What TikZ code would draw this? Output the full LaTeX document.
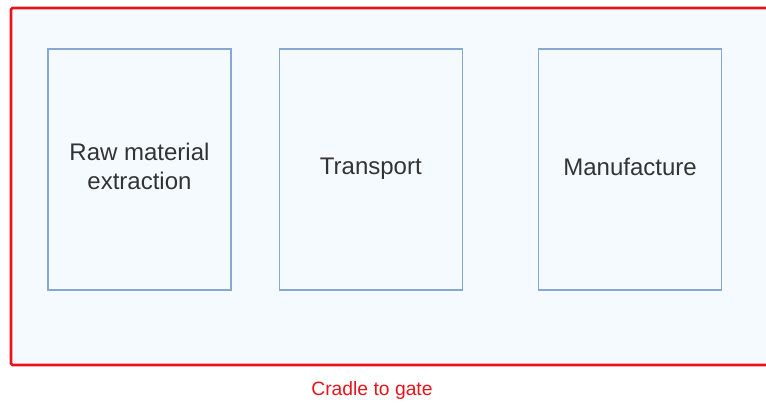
\documentclass[tikz,border=0pt]{standalone}
\usepackage{fontspec}
\setmainfont{Liberation Sans}
\usepackage{xcolor}
\usepackage{tikz}
\usetikzlibrary{positioning}
\definecolor{framered}{HTML}{E8141C}
\definecolor{stageblue}{HTML}{84AAD4}
\definecolor{panelbg}{HTML}{F5FAFF}
\definecolor{textgray}{HTML}{333333}
\tikzstyle{frame} = [rectangle, rounded corners=1.5pt, draw=framered, fill=panelbg, line width=2.8pt, minimum width=759pt, minimum height=357pt, inner sep=0pt]
\tikzstyle{stage} = [rectangle, draw=stageblue, fill=panelbg, line width=1.3pt, minimum width=183pt, minimum height=241pt, inner sep=0pt, text depth=6pt, align=center, text=textgray, font=\fontsize{24}{29}\selectfont]
\tikzstyle{caption} = [text=framered, font=\fontsize{19.3}{22}\selectfont, inner sep=0pt]

\begin{document}
\begin{tikzpicture}[x=1pt, y=-1pt]
    \useasboundingbox (0,0) rectangle (766,403);

    % Boundary
    \node (system) [frame] at (390.5,186.5) {};

    % Life cycle stages
    \node (raw) [stage] at (139.5,169.5) {Raw material\\extraction};
    \node (transport) [stage, right=47pt of raw] {Transport};
    \node (manufacture) [stage, right=75pt of transport] {Manufacture};

    % Boundary label
    \node (scope) [caption] at (372,391) {Cradle to gate};

\end{tikzpicture}
\end{document}
